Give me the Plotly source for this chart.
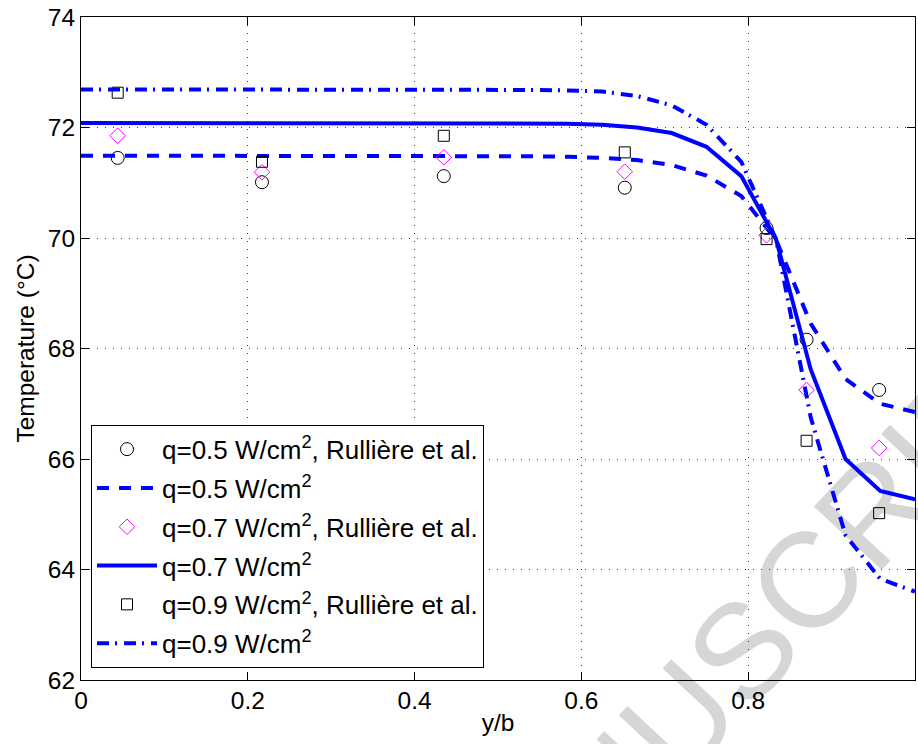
import plotly.graph_objects as go

# ---------------- data ----------------
x_exp = [0.044, 0.217, 0.435, 0.652, 0.822, 0.870, 0.957]
t_exp_05 = [71.45, 71.01, 71.12, 70.91, 70.18, 68.16, 67.25]
t_exp_07 = [71.85, 71.19, 71.46, 71.20, 70.05, 67.25, 66.20]
t_exp_09 = [72.63, 71.38, 71.85, 71.55, 69.98, 66.33, 65.02]

x_model = [0.0, 0.0417, 0.0833, 0.125, 0.1667, 0.2083, 0.25, 0.2917, 0.3333,
           0.375, 0.4167, 0.4583, 0.5, 0.5417, 0.5833, 0.625, 0.6667, 0.7083,
           0.75, 0.7917, 0.8333, 0.875, 0.9167, 0.9583, 1.0]
t_mod_05 = [71.49, 71.49, 71.49, 71.49, 71.49, 71.49, 71.49, 71.49, 71.49,
            71.49, 71.49, 71.49, 71.49, 71.48, 71.47, 71.45, 71.41, 71.32,
            71.13, 70.76, 69.97, 68.45, 67.45, 67.00, 66.85]
t_mod_07 = [72.08, 72.08, 72.08, 72.08, 72.08, 72.08, 72.08, 72.08, 72.08,
            72.08, 72.08, 72.08, 72.08, 72.08, 72.07, 72.05, 72.00, 71.90,
            71.65, 71.12, 69.98, 67.62, 66.00, 65.42, 65.27]
t_mod_09 = [72.69, 72.69, 72.69, 72.69, 72.69, 72.69, 72.69, 72.69, 72.69,
            72.69, 72.69, 72.69, 72.69, 72.68, 72.67, 72.65, 72.57, 72.40,
            72.05, 71.38, 69.98, 66.75, 64.62, 63.83, 63.60]

names = ["q=0.5 W/cm<sup>2</sup>, Rullière et al.", "q=0.5 W/cm<sup>2</sup>",
         "q=0.7 W/cm<sup>2</sup>, Rullière et al.", "q=0.7 W/cm<sup>2</sup>",
         "q=0.9 W/cm<sup>2</sup>, Rullière et al.", "q=0.9 W/cm<sup>2</sup>"]

x_ticks = [0, 0.2, 0.4, 0.6, 0.8, 1]
x_ticklabels = ["0", "0.2", "0.4", "0.6", "0.8", "1"]
y_ticks = [62, 64, 66, 68, 70, 72, 74]

watermark = "MANUSCRIPT"

FONT = "Liberation Sans, Arial, Helvetica, sans-serif"
BLUE = "#0000ff"

fig = go.Figure()

fig.add_trace(go.Scatter(x=x_exp, y=t_exp_05, mode="markers", name=names[0], legendgroup="g1",
                         marker=dict(symbol="circle-open", size=13, color="black",
                                     line=dict(width=1, color="black"))))
fig.add_trace(go.Scatter(x=x_model, y=t_mod_05, mode="lines", name=names[1], legendgroup="g2",
                         line=dict(color=BLUE, width=4, dash="12px,10px")))
fig.add_trace(go.Scatter(x=x_exp, y=t_exp_07, mode="markers", name=names[2], legendgroup="g3",
                         marker=dict(symbol="diamond-open", size=12, color="#ff00ff",
                                     line=dict(width=1, color="#ff00ff"))))
fig.add_trace(go.Scatter(x=x_model, y=t_mod_07, mode="lines", name=names[3], legendgroup="g4",
                         line=dict(color=BLUE, width=4)))
fig.add_trace(go.Scatter(x=x_exp, y=t_exp_09, mode="markers", name=names[4], legendgroup="g5",
                         marker=dict(symbol="square-open", size=11, color="black",
                                     line=dict(width=1, color="black"))))
fig.add_trace(go.Scatter(x=x_model, y=t_mod_09, mode="lines", name=names[5], legendgroup="g6",
                         line=dict(color=BLUE, width=4, dash="12px,6px,2px,7px")))

axis_common = dict(
    showline=True, linecolor="black", linewidth=1, mirror="allticks",
    ticks="inside", ticklen=8, tickwidth=1, tickcolor="black",
    showgrid=True, gridcolor="#333333", griddash="1px,7px", gridwidth=1,
    zeroline=False, automargin=False,
    tickfont=dict(family=FONT, size=24.5, color="black"),
)

fig.update_xaxes(range=[0, 1], tickvals=x_ticks, ticktext=x_ticklabels,
                 ticklabelstandoff=-1,
                 title=dict(text="y/b", font=dict(family=FONT, size=24.5, color="black"),
                            standoff=0),
                 **axis_common)
fig.update_yaxes(range=[62, 74], tickvals=y_ticks,
                 title=dict(text="Temperature (°C)",
                            font=dict(family=FONT, size=24.5, color="black"), standoff=6),
                 **axis_common)

# watermark, drawn underneath the data
fig.add_shape(type="line", xref="paper", yref="paper",
              x0=0.5396, y0=-0.2686, x1=1.0314, y1=0.3929, layer="below",
              line=dict(width=0, color="rgba(0,0,0,0)"),
              label=dict(text=watermark, textposition="middle",
                         textangle=-47, xanchor="center", yanchor="middle", padding=0,
                         font=dict(family=FONT, size=135, color="#d6d6d6")))

fig.update_layout(
    width=918, height=744,
    margin=dict(l=81, r=3, t=17, b=64),
    paper_bgcolor="white", plot_bgcolor="rgba(0,0,0,0)",
    font=dict(family=FONT, size=24, color="black"),
    showlegend=True,
    legend=dict(x=0.012, y=0.385, xanchor="left", yanchor="top",
                bgcolor="white", bordercolor="black", borderwidth=1,
                font=dict(family=FONT, size=26, color="black"),
                traceorder="grouped", tracegroupgap=2,
                itemwidth=60),
)

fig.write_html("out.html", config={"displayModeBar": False},
               post_script="document.body.style.margin='0';document.body.style.overflow='hidden';")
